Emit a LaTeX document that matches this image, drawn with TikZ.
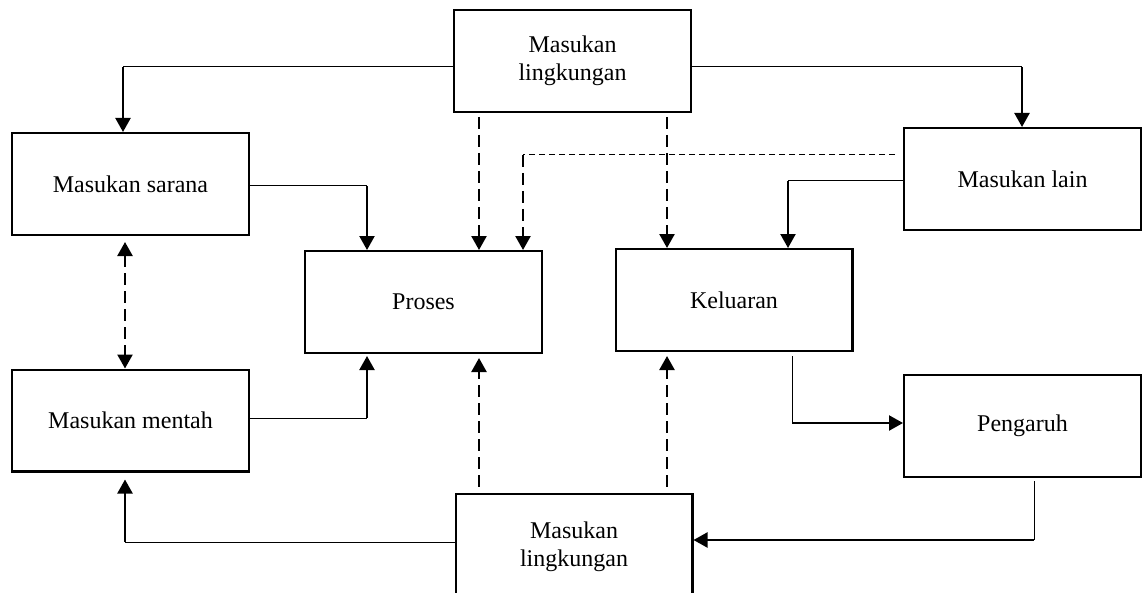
\documentclass[tikz,border=0pt]{standalone}
\usepackage{fontspec}
\setmainfont{Liberation Serif}
\usetikzlibrary{arrows.meta}

\begin{document}
\begin{tikzpicture}[x=0.5pt, y=-0.5pt,
  >={Triangle[length=7pt,width=7.5pt]},
  box/.style={draw, rectangle, line width=1.2pt, minimum width=118.3pt, minimum height=50.8pt,
    align=center, font=\fontsize{12}{14}\selectfont},
  thinln/.style={line width=0.5pt},
  arr/.style={line width=1.1pt, ->},
  darr/.style={arr, line width=1.2pt, dash pattern=on 6pt off 3pt},
  thindash/.style={line width=0.5pt, dash pattern=on 3pt off 2pt}]
\clip (0,0) rectangle (1144,593);

% Boxes
\node[box] (envtop) at (572.5,61) {Masukan\\lingkungan};
\node[box] (sarana) at (130.5,184) {Masukan sarana};
\node[box] (lain) at (1022.5,179) {Masukan lain};
\node[box] (proses) at (423.5,302) {Proses};
\node[box] (keluaran) at (734,300) {Keluaran};
\node[box] (mentah) at (130.5,420.5) {Masukan mentah};
\node[box] (pengaruh) at (1022.5,426) {Pengaruh};
\node[box, minimum height=53pt] (envbot) at (574,547) {Masukan\\lingkungan};

% Environment on top
\coordinate (ts) at (123,67);
\coordinate (tl) at (1022,67);
\draw[thinln] (envtop.west |- ts) -- (ts);
\draw[arr] (ts) -- (ts |- sarana.north);
\draw[thinln] (envtop.east |- tl) -- (tl);
\draw[arr] (tl) -- (tl |- lain.north);
\draw[darr, shorten <=2pt] (envtop.south -| 479,0) -- (proses.north -| 479,0);
\draw[darr, shorten <=2pt] (envtop.south -| 667,0) -- (keluaran.north -| 667,0);

% Inputs into the process and the output
\coordinate (ls) at (523,155);
\draw[thindash, shorten <=4pt] (lain.west |- ls) -- (ls);
\draw[darr] (ls) -- (ls |- proses.north);
\coordinate (sp) at (367,186);
\draw[thinln] (sarana.east |- sp) -- (sp);
\draw[arr] (sp) -- (sp |- proses.north);
\coordinate (lk) at (788,181);
\draw[thinln] (lain.west |- lk) -- (lk);
\draw[arr] (lk) -- (lk |- keluaran.north);
\draw[darr, <->, shorten <=3pt] (sarana.south -| 125,0) -- (mentah.north -| 125,0);
\coordinate (mp) at (367,418);
\draw[thinln] (mentah.east |- mp) -- (mp);
\draw[arr, shorten >=1pt] (mp) -- (mp |- proses.south);

% Environment at the bottom
\draw[darr, shorten <=3pt, shorten >=2pt] (envbot.north -| 479,0) -- (proses.south -| 479,0);
\draw[darr, shorten <=3pt, shorten >=2pt] (envbot.north -| 667,0) -- (keluaran.south -| 667,0);
\coordinate (bm) at (125,542);
\draw[thinln] (envbot.west |- bm) -- (bm);
\draw[arr, shorten >=3.5pt] (bm) -- (bm |- mentah.south);

% Output, effect and feedback
\coordinate (kp) at (792,423);
\draw[thinln, shorten <=2pt] (kp |- keluaran.south) -- (kp);
\draw[arr] (kp) -- (kp -| pengaruh.west);
\coordinate (pb) at (1034,540);
\draw[thinln, shorten <=1.5pt] (pb |- pengaruh.south) -- (pb);
\draw[arr] (pb) -- (pb -| envbot.east);

\end{tikzpicture}
\end{document}
